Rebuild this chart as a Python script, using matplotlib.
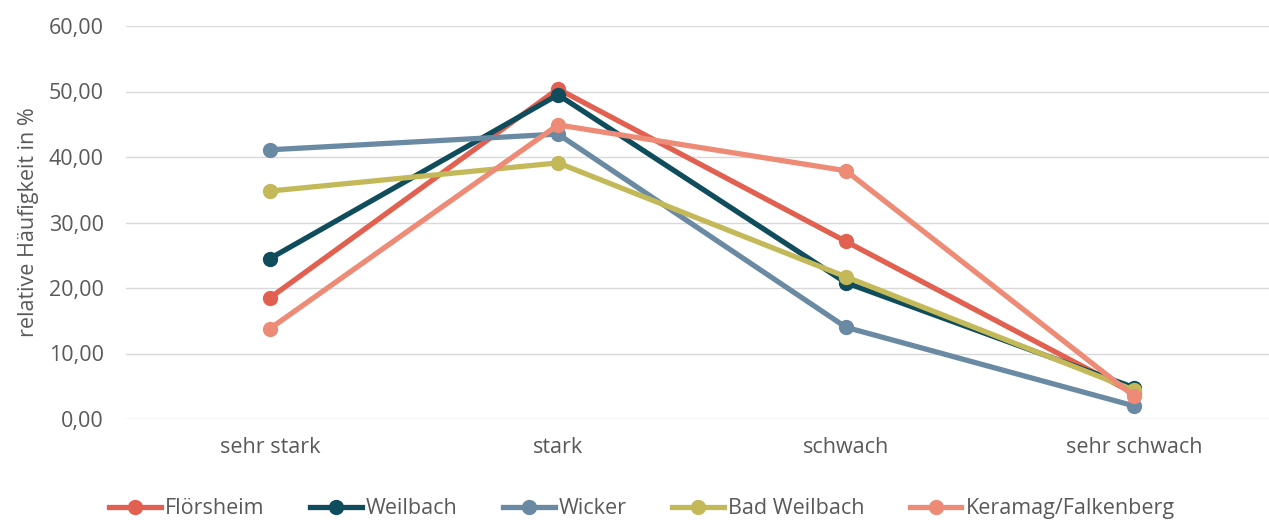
import matplotlib.pyplot as plt

# categories and values (relative frequency in %)
categories = ["sehr stark", "stark", "schwach", "sehr schwach"]
floersheim = [18.5, 50.4, 27.1, 3.9]
weilbach = [24.5, 49.5, 20.8, 4.8]
wicker = [41.1, 43.5, 14.0, 2.0]
bad_weilbach = [34.8, 39.1, 21.7, 4.4]
keramag = [13.8, 44.9, 37.9, 3.5]

series = [
    ("Flörsheim", floersheim, "#E1604F"),
    ("Weilbach", weilbach, "#0F4C5C"),
    ("Wicker", wicker, "#6A8AA3"),
    ("Bad Weilbach", bad_weilbach, "#C4B959"),
    ("Keramag/Falkenberg", keramag, "#EE8B77"),
]

plt.rcParams["font.family"] = ["Open Sans", "DejaVu Sans"]

fig = plt.figure(figsize=(12.69, 5.2), dpi=100)
ax = fig.add_axes([126 / 1269, 101 / 520, 1152 / 1269, 393 / 520])

x = list(range(len(categories)))
for name, vals, col in series:
    ax.plot(x, vals, color=col, lw=3.8, marker="o", ms=10, label=name,
            solid_joinstyle="round", clip_on=False)

ax.set_xlim(-0.5, 3.5)
ax.set_ylim(0, 60)
ax.set_yticks(range(0, 61, 10))
ax.set_yticklabels([f"{v},00" for v in range(0, 61, 10)])
ax.set_xticks(x)
ax.set_xticklabels(categories)
ax.tick_params(length=0, labelsize=15.5, colors="#595959")
ax.tick_params(axis="x", pad=13)
ax.tick_params(axis="y", pad=16)
ax.grid(axis="y", color="#D9D9D9", lw=1)
ax.set_axisbelow(True)
for s in ax.spines.values():
    s.set_visible(False)

ax.set_ylabel("relative Häufigkeit in %", fontsize=15.5, color="#595959", labelpad=7)

ax.legend(loc="center", bbox_to_anchor=(0.448, -0.228), ncol=5,
          frameon=False, fontsize=15.5, labelcolor="#595959", handlelength=2.4,
          columnspacing=2.1, handletextpad=0.2)

plt.savefig("out.png", dpi=100)
